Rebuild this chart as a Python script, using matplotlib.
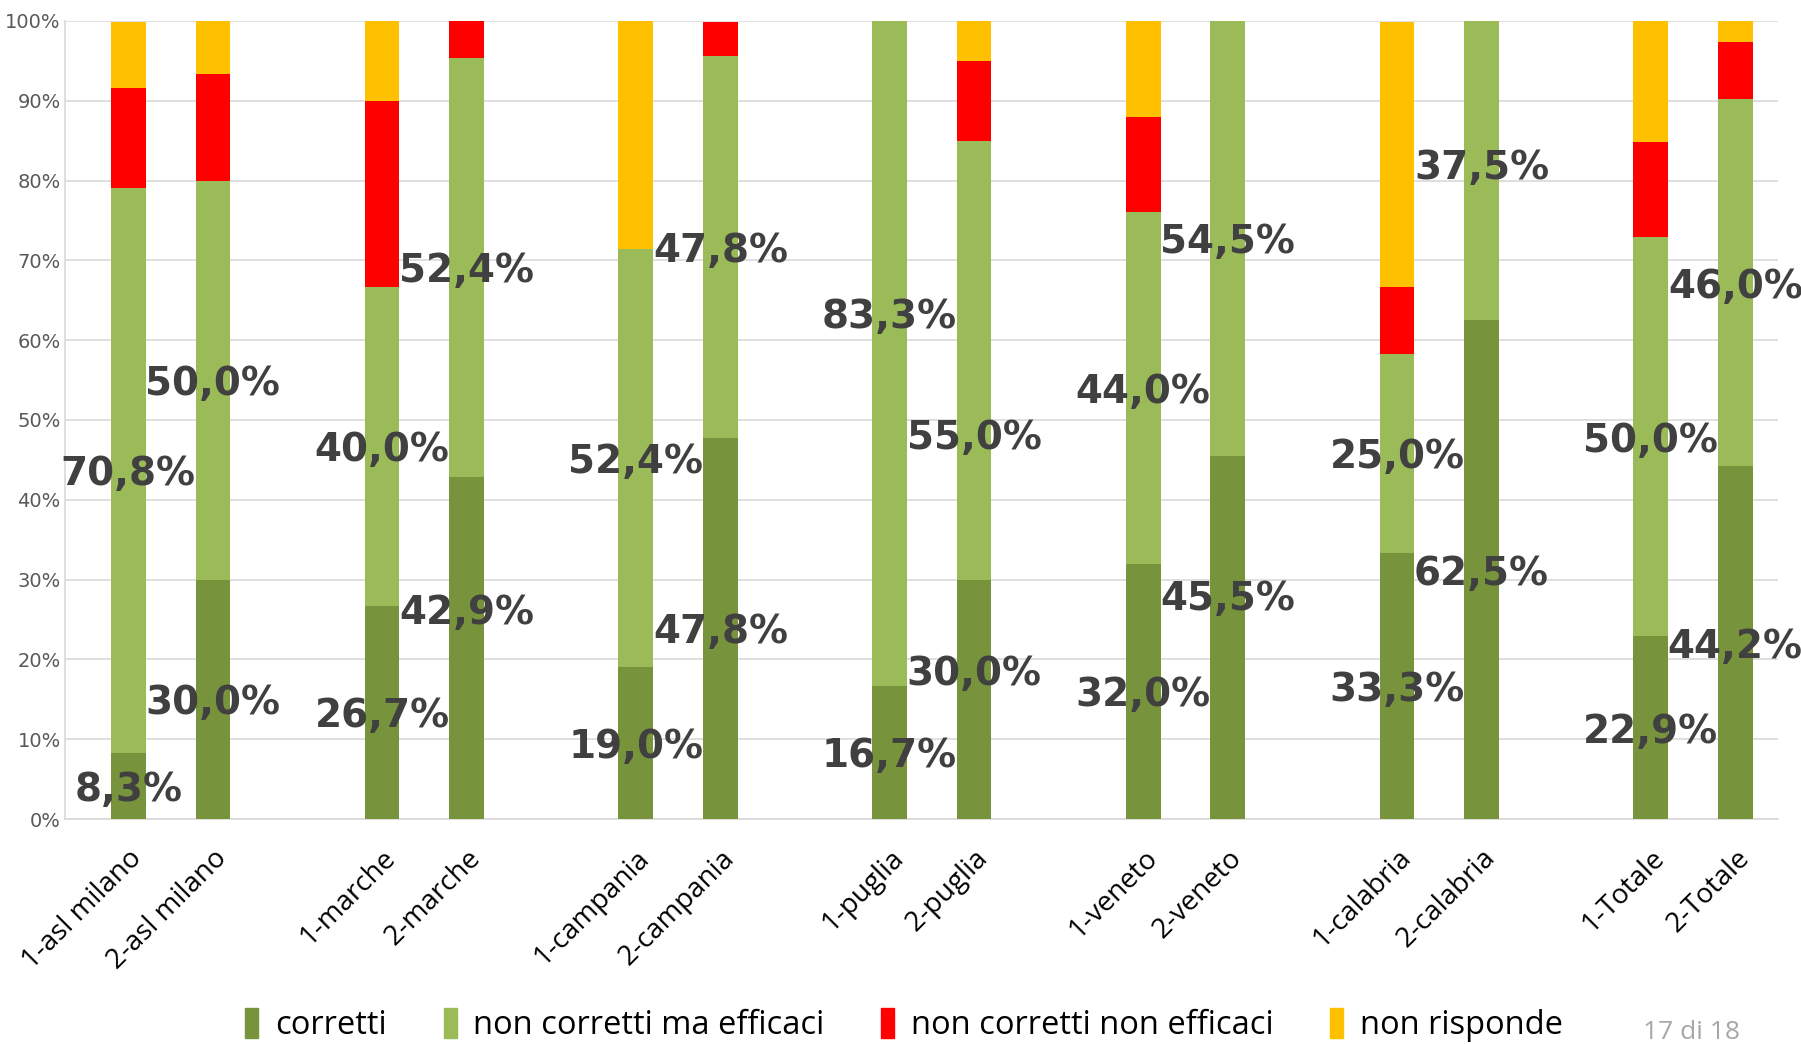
import matplotlib
matplotlib.use("Agg")
import matplotlib.pyplot as plt
import numpy as np

categories = ["1-asl milano", "2-asl milano", "1-marche", "2-marche",
              "1-campania", "2-campania", "1-puglia", "2-puglia",
              "1-veneto", "2-veneto", "1-calabria", "2-calabria",
              "1-Totale", "2-Totale"]
corretti = [8.3, 30.0, 26.7, 42.9, 19.0, 47.8, 16.7, 30.0, 32.0, 45.5, 33.3, 62.5, 22.9, 44.2]
non_corretti_efficaci = [70.8, 50.0, 40.0, 52.4, 52.4, 47.8, 83.3, 55.0, 44.0, 54.5, 25.0, 37.5, 50.0, 46.0]
non_corretti_non_efficaci = [12.5, 13.3, 23.3, 4.8, 0.0, 4.3, 0.0, 10.0, 12.0, 0.0, 8.3, 0.0, 11.9, 7.1]
non_risponde = [8.3, 6.7, 10.0, 0.0, 28.6, 0.0, 0.0, 5.0, 12.0, 0.0, 33.3, 0.0, 15.3, 2.7]
series_names = ["corretti", "non corretti ma efficaci", "non corretti non efficaci", "non risponde"]
colors = ["#77933C", "#9BBB59", "#FF0000", "#FFC000"]

# manual label shifts (percentage points) as in the original chart
label_shift_corretti = [0, 0, 0, 4.8, 0, 0, 0, 3.7, 0, 5.3, 0, 0, 0, 0]
label_shift_efficaci = [0, 0, 0, 0, 0, 0, 5.0, -9.2, 0, 0, 0, 0.8, 0, 0]

# positions: pairs separated by an empty slot
pos = []
for g in range(7):
    pos += [3 * g, 3 * g + 1]
pos = np.array(pos, dtype=float)

fig = plt.figure(figsize=(18.01, 10.44), dpi=100)
ax = fig.add_axes([0.036, 0.2155, 0.951, 0.7645])

series = [corretti, non_corretti_efficaci, non_corretti_non_efficaci, non_risponde]
bottom = np.zeros(len(categories))
w = 0.41
bars = []
for vals, col, name in zip(series, colors, series_names):
    v = np.array(vals)
    ax.bar(pos, v, w, bottom=bottom, color=col, label=name, zorder=3)
    bars.append((v, bottom.copy()))
    bottom += v

shifts = [label_shift_corretti, label_shift_efficaci]
for idx in range(2):
    v, b0 = bars[idx]
    for x, val, bb, sh in zip(pos, v, b0, shifts[idx]):
        ax.text(x, bb + val / 2 + sh - 0.5, f"{val:.1f}%".replace(".", ","),
                ha="center", va="center", fontsize=28, fontweight="bold",
                color="#404040", zorder=5)

ax.set_ylim(0, 100)
ax.set_xlim(-0.75, 19.5)
ax.set_yticks(np.arange(0, 101, 10))
ax.set_yticklabels([f"{t}%" for t in range(0, 101, 10)], fontsize=14, color="#595959")
ax.yaxis.grid(True, color="#d9d9d9", linewidth=1.2, zorder=0)
ax.set_axisbelow(True)
for s in ["top", "right"]:
    ax.spines[s].set_visible(False)
for s in ["left", "bottom"]:
    ax.spines[s].set_color("#d9d9d9")
    ax.spines[s].set_linewidth(1.2)
ax.tick_params(axis="both", length=0)
ax.tick_params(axis="y", pad=3)

ax.set_xticks(pos)
ax.set_xticklabels(categories, rotation=45, ha="right", rotation_mode="anchor",
                   fontsize=20, family="Open Sans", color="#000000")
ax.tick_params(axis="x", pad=18)

handles = [plt.Rectangle((0, 0), 1, 1, color=c) for c in colors]
fig.legend(handles, series_names, loc="center", bbox_to_anchor=(0.502, 0.018),
           ncol=4, frameon=False, prop={"family": "Open Sans", "size": 23.5},
           handlelength=0.4, handleheight=1.0, handletextpad=0.5, columnspacing=1.75)

fig.text(0.939, 0.011, "17 di 18", fontsize=19, color="#a6a6a6", ha="center", va="center",
         family="Open Sans")

fig.savefig("out.png", dpi=100)
